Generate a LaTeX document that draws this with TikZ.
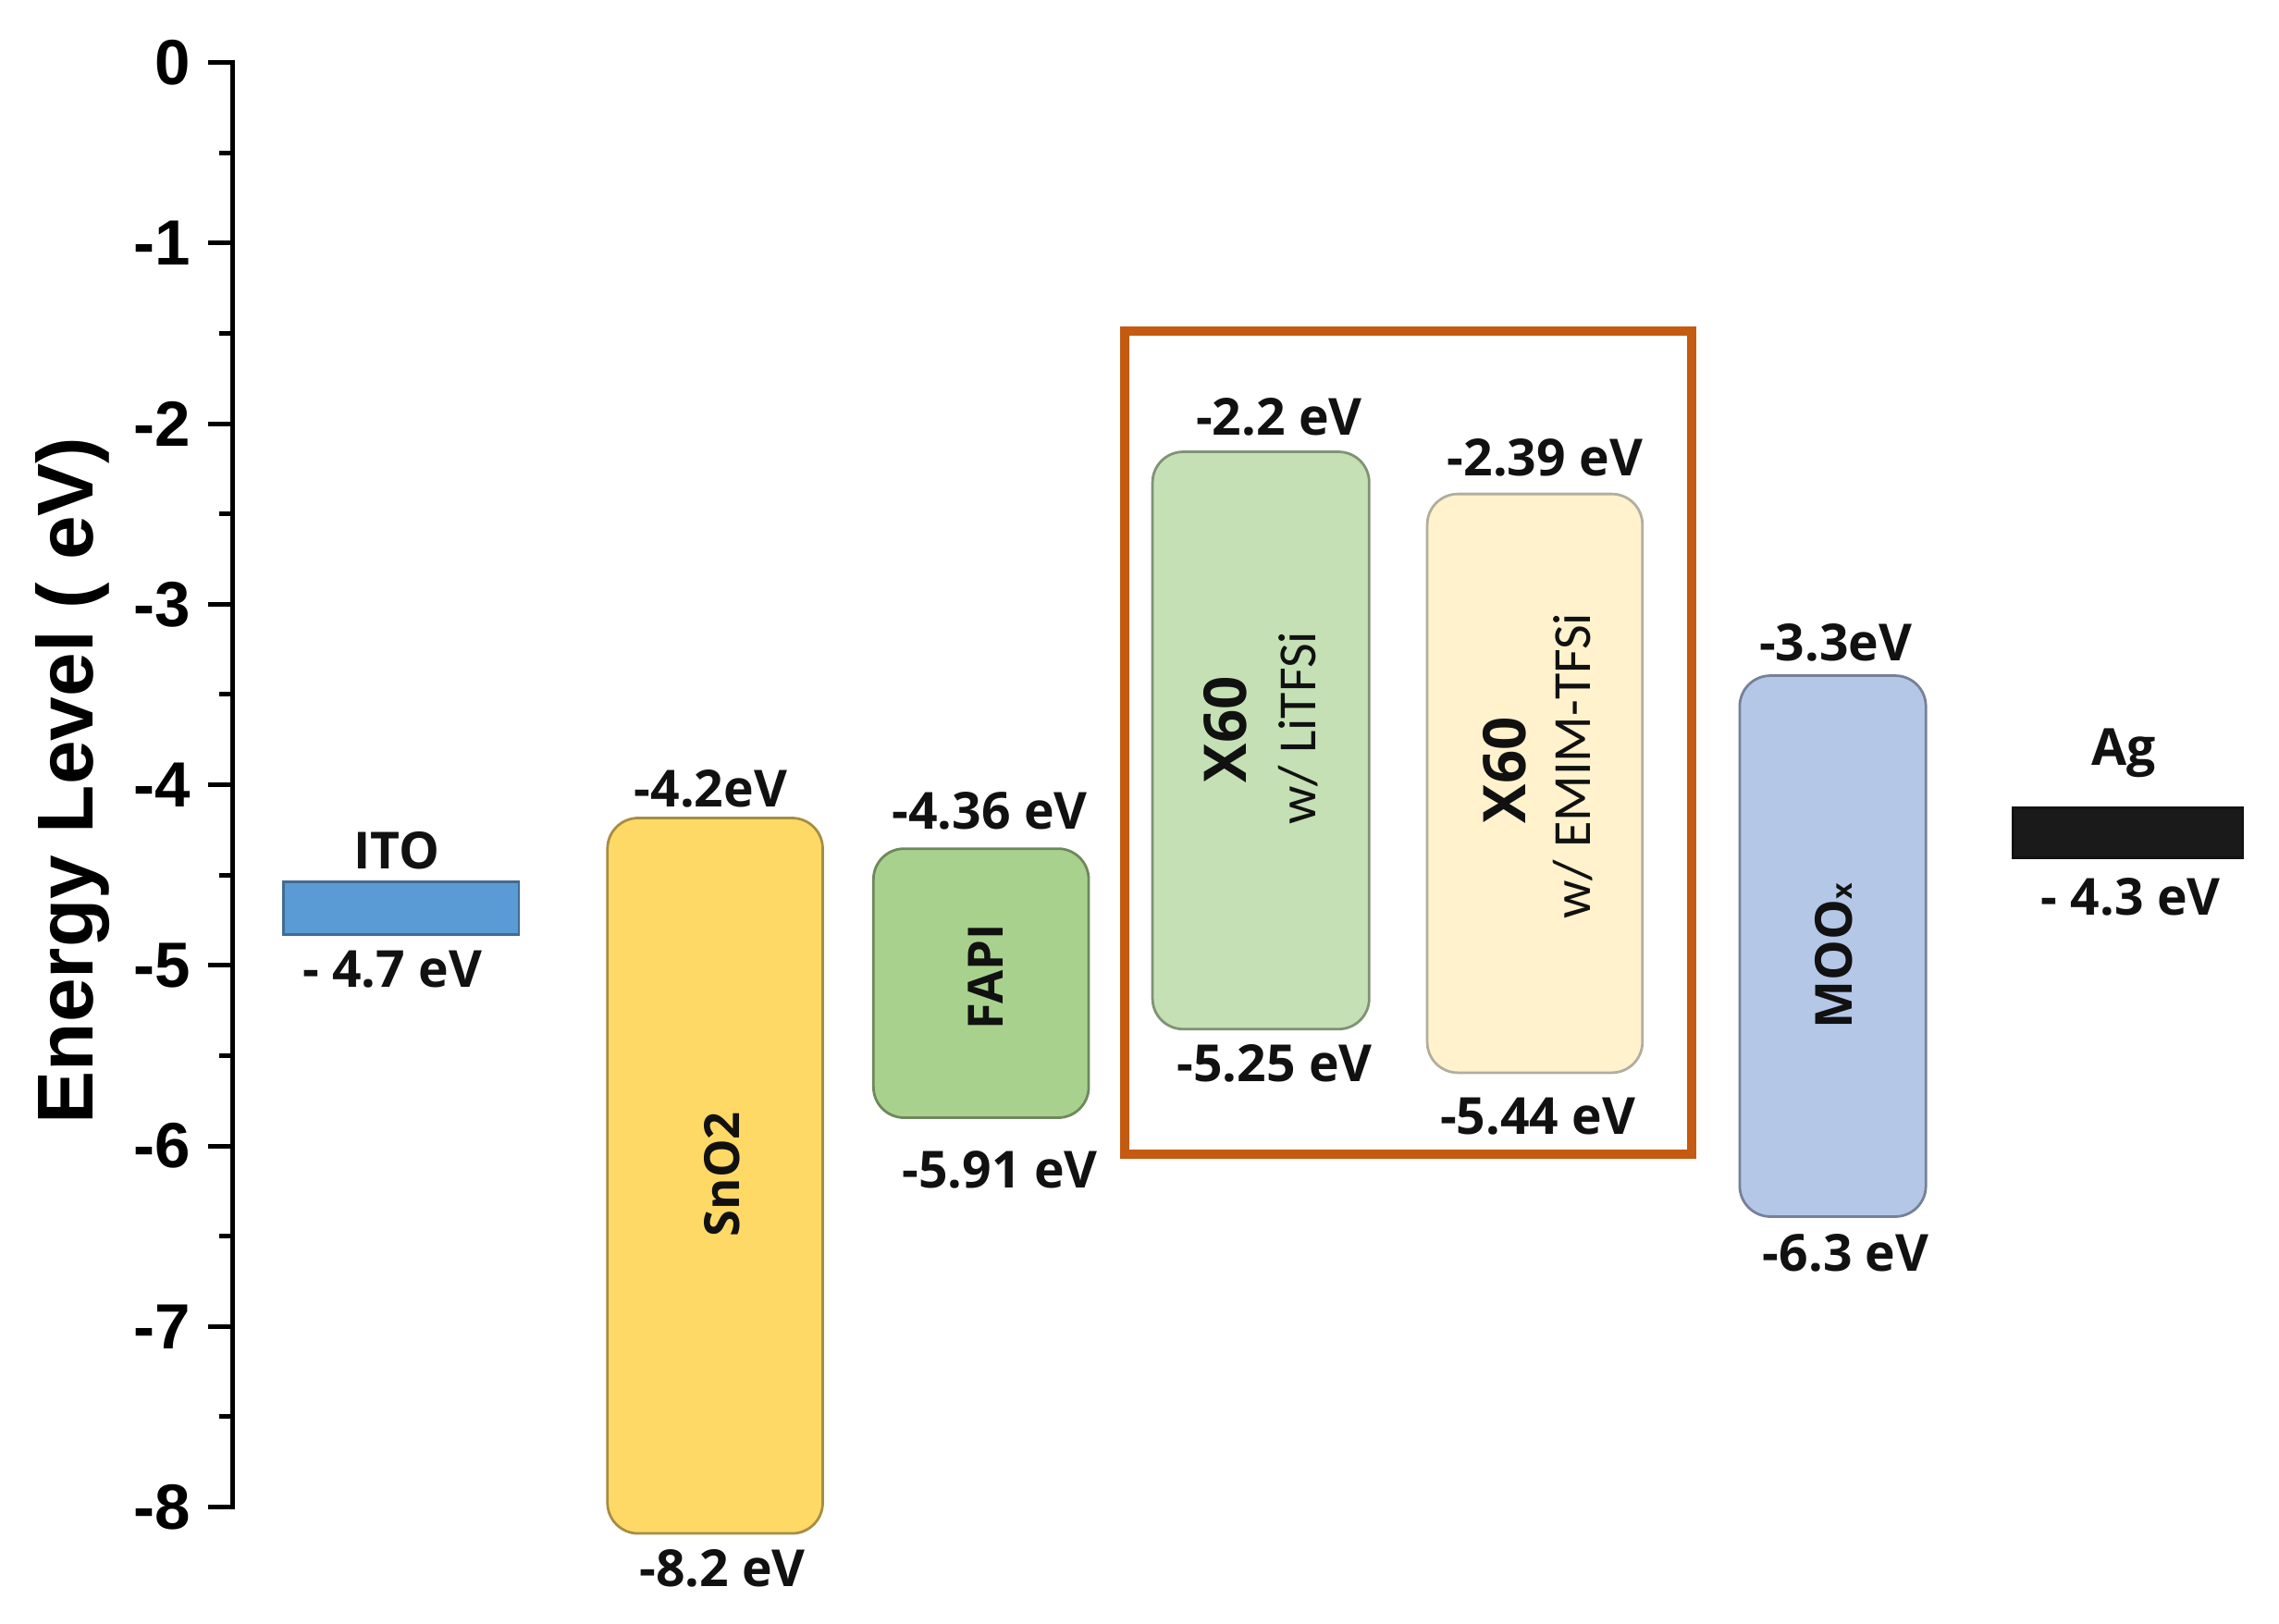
\documentclass[tikz,border=0pt]{standalone}
\usepackage{fontspec}
\setmainfont{Open Sans}
\newfontfamily\arialfont{Liberation Sans}
\newfontfamily\condfont{Carlito}
\definecolor{itoblue}{HTML}{5B9BD5}
\definecolor{snyellow}{HTML}{FFD966}
\definecolor{fapigreen}{HTML}{A9D18E}
\definecolor{litgreen}{HTML}{C5E0B4}
\definecolor{emimcream}{HTML}{FFF2CC}
\definecolor{mooblue}{HTML}{B4C7E7}
\definecolor{frameorange}{HTML}{C55A11}
\definecolor{agblack}{HTML}{1A1A1A}
\definecolor{txt}{HTML}{111111}
\begin{document}
\begin{tikzpicture}[x=0.01cm,y=-0.01cm,
  level/.style={draw=#1!65!black, fill=#1, line width=0.5pt, rounded corners=6pt, inner sep=0pt, outer sep=0pt},
  bar/.style={draw=#1!70!black, fill=#1, line width=0.5pt, inner sep=0pt, outer sep=0pt},
  eval/.style={font=\bfseries\fontsize{10}{12}\selectfont, text=txt, inner sep=0pt},
  ticklab/.style={font=\arialfont\bfseries\fontsize{12.5}{14}\selectfont, anchor=east, inner sep=0pt},
  inlab/.style={rotate=90, font=\bfseries\fontsize{9.5}{11}\selectfont, text=txt, inner sep=0pt},
  axisline/.style={line width=0.9pt, black}
]
\useasboundingbox (0,0) rectangle (1568,1117);
% axis
\draw[axisline] (143,43) -- (160,43) -- (160,1037) -- (143,1037);
\foreach \i in {1,...,7} {
  \draw[axisline] (143,43+124.25*\i) -- (160,43+124.25*\i);
}
\foreach \i in {0,...,7} {
  \draw[axisline] (151,43+124.25*\i+62.125) -- (160,43+124.25*\i+62.125);
}
\node[ticklab] (t0) at (132,43) {0};
\node[ticklab] (t1) at (132,167.25) {-1};
\node[ticklab] (t2) at (132,291.5) {-2};
\node[ticklab] (t3) at (132,415.75) {-3};
\node[ticklab] (t4) at (132,540) {-4};
\node[ticklab] (t5) at (132,664.25) {-5};
\node[ticklab] (t6) at (132,788.5) {-6};
\node[ticklab] (t7) at (132,912.75) {-7};
\node[ticklab] (t8) at (132,1037) {-8};
\node[rotate=90, font=\arialfont\bfseries\fontsize{15.5}{18}\selectfont, inner sep=0pt] (ylab) at (50,537) {Energy Level ( eV)};

% frame
\node[draw=frameorange, line width=1.8pt, minimum width=3.90cm, minimum height=5.66cm, inner sep=0pt] (frame) at (969,511) {};

% ITO
\node[bar=itoblue, minimum width=1.62cm, minimum height=0.36cm] (ito) at (276,625) {};
\node[eval] (itoname) at (273,585) {ITO};
\node[eval] (itoval) at (270,667) {- 4.7 eV};

% SnO2
\node[level=snyellow, minimum width=1.48cm, minimum height=4.92cm] (sno) at (492,809) {};
\node[inlab] (snolab) at (497,808) {SnO2};
\node[eval] (snotop) at (489,543) {-4.2eV};
\node[eval] (snobot) at (497,1079) {-8.2 eV};

% FAPI
\node[level=fapigreen, minimum width=1.48cm, minimum height=1.85cm] (fapi) at (675,676.5) {};
\node[inlab] (fapilab) at (678,672) {FAPI};
\node[eval] (fapitop) at (681,558) {-4.36 eV};
\node[eval] (fapibot) at (688,805) {-5.91 eV};

% X60 LiTFSI
\node[level=litgreen, minimum width=1.49cm, minimum height=3.97cm] (xa) at (867.5,509.5) {};
\node[inlab, font=\bfseries\fontsize{11.5}{13}\selectfont] (xalab) at (843,502) {X60};
\node[rotate=90, font=\condfont\fontsize{10.5}{12}\selectfont, text=txt, inner sep=0pt] (xasub) at (893,501) {w/ LiTFSi};
\node[eval] (xatop) at (880,287) {-2.2 eV};
\node[eval] (xabot) at (877,732) {-5.25 eV};

% X60 EMIM-TFSi
\node[level=emimcream, draw=emimcream!40!gray, minimum width=1.48cm, minimum height=3.98cm] (xb) at (1056,539) {};
\node[inlab, font=\bfseries\fontsize{11.5}{13}\selectfont] (xblab) at (1035,530) {X60};
\node[rotate=90, font=\condfont\fontsize{10.5}{12}\selectfont, text=txt, inner sep=0pt] (xbsub) at (1082,527) {w/ EMIM-TFSi};
\node[eval] (xbtop) at (1063,315) {-2.39 eV};
\node[eval] (xbbot) at (1058,768) {-5.44 eV};

% MoOx
\node[level=mooblue, minimum width=1.28cm, minimum height=3.72cm] (moo) at (1261,651) {};
\node[inlab, font=\bfseries\fontsize{10}{12}\selectfont] (moolab) at (1262,658) {MOO{\fontsize{5.5}{6}\selectfont x}};
\node[eval] (mootop) at (1263,442) {-3.3eV};
\node[eval] (moobot) at (1270,862) {-6.3 eV};

% Ag
\node[bar=agblack, minimum width=1.58cm, minimum height=0.34cm] (ag) at (1464,573) {};
\node[eval] (agname) at (1461,518) {Ag};
\node[eval] (agval) at (1466,617) {- 4.3 eV};
\end{tikzpicture}
\end{document}
